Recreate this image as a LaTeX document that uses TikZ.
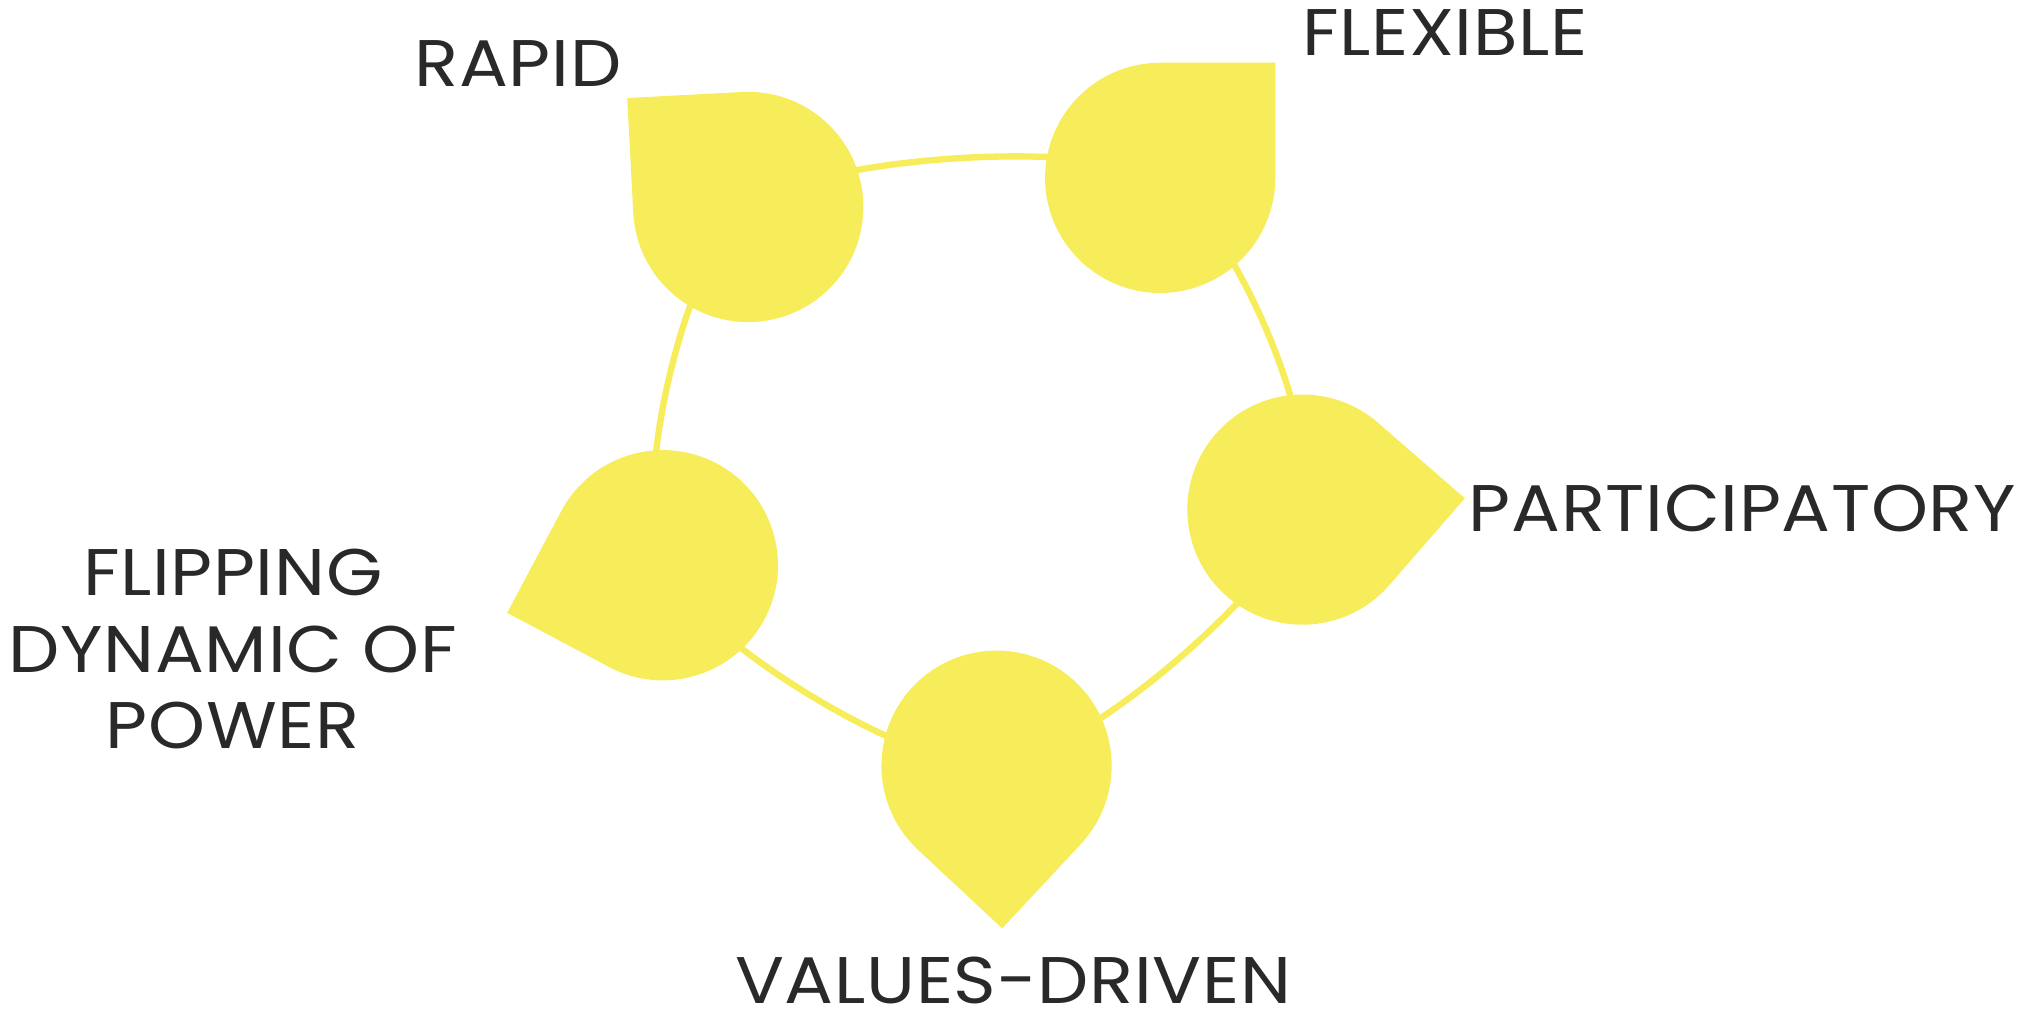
\documentclass[tikz,border=0pt]{standalone}
\usepackage{fontspec}
\setmainfont{Poppins}[FakeStretch=1.1,LetterSpace=1]
\usepackage{tikz}
\usetikzlibrary{calc}
\definecolor{petalyellow}{HTML}{F7EC5A}
\definecolor{labelgray}{HTML}{292929}
\def\rad{0.89}

\begin{document}
\begin{tikzpicture}[
  petal/.style={fill=petalyellow},
  ring/.style={draw=petalyellow,line width=1.4pt},
  word/.style={inner sep=0pt,text=labelgray,font=\fontsize{14.5pt}{16.8pt}\selectfont}]
\useasboundingbox (0,0) rectangle (15.68,-7.84);
\coordinate (rapid) at (5.785,-1.60);
\coordinate (flexible) at (8.97,-1.375);
\coordinate (participatory) at (10.07,-3.94);
\coordinate (values) at (7.705,-5.92);
\coordinate (flipping) at (5.125,-4.37);
\draw [ring] plot [smooth cycle,tension=0.47] coordinates {(rapid) (flexible) (participatory) (values) (flipping)};
\foreach \c/\a in {rapid/138,flexible/45,participatory/4,values/-88,flipping/197}
  \fill [petal] ($(\c)+(\a-45:\rad)$) -- ($(\c)+(\a:\rad*1.4142)$) -- ($(\c)+(\a+45:\rad)$)
    arc [start angle=\a+45,delta angle=270,radius=\rad] -- cycle;
\node [word,anchor=base] (rapidtext) at (4.005,-0.67) {RAPID};
\node [word,anchor=base west] (flexibletext) at (10.06,-0.43) {FLEXIBLE};
\node [word,anchor=base west] (participatorytext) at (11.35,-4.11) {PARTICIPATORY};
\node [word,anchor=base] (valuestext) at (7.835,-7.76) {VALUES-DRIVEN};
\node [word,align=center] (flippingtext) at (1.80,-5.02) {FLIPPING\\DYNAMIC OF\\POWER};
\end{tikzpicture}
\end{document}
